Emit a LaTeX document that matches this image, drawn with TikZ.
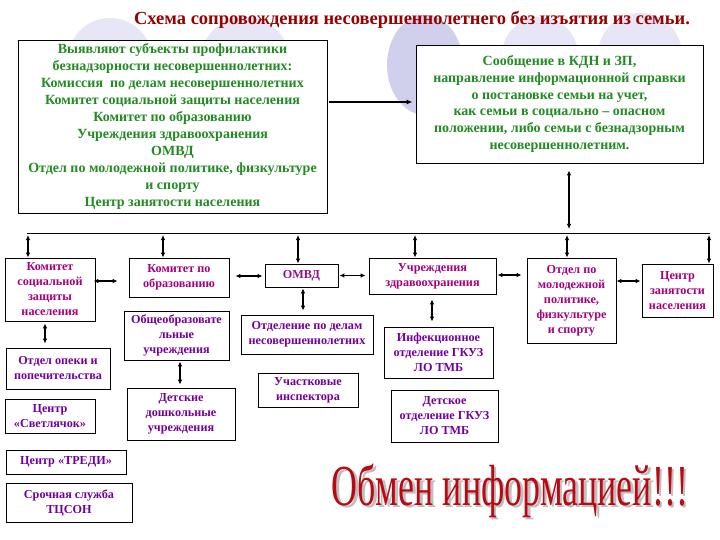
\documentclass[tikz,border=0pt]{standalone}
\usepackage{fontspec}
\setmainfont{Liberation Serif}
\usetikzlibrary{arrows.meta}
\definecolor{tgreen}{RGB}{34,139,34}
\definecolor{tred}{RGB}{150,0,0}
\definecolor{tmag}{RGB}{165,0,125}
\definecolor{tpur}{RGB}{115,0,155}
\definecolor{tmid}{RGB}{140,20,140}
\definecolor{bigred}{RGB}{185,10,20}
\definecolor{lav}{RGB}{230,230,246}
\definecolor{lavd}{RGB}{208,208,236}
\begin{document}
\begin{tikzpicture}[x=1pt,y=-1pt,
 box/.style={draw=black, line width=0.8pt, fill=white, align=center, inner sep=1pt, font=\bfseries\fontsize{12.2}{15}\selectfont},
 topbox/.style={box, text=tgreen, font=\bfseries\fontsize{14}{16.9}\selectfont},
 mbox/.style={box,text=tmag},
 pbox/.style={box,text=tpur},
 dbl/.style={line width=1.1pt,{Latex[length=5pt,width=4.5pt]}-{Latex[length=5pt,width=4.5pt]}},
 sgl/.style={line width=1.6pt,-{Latex[length=6pt,width=5pt]}},
 busline/.style={line width=1pt}
]
\useasboundingbox (0,0) rectangle (720,540);
\fill[white] (0,0) rectangle (720,540);
% background decoration
\fill[lav] (110,60) circle (42);
\fill[lav] (245,62) circle (45);
\fill[lavd] (425,65) ellipse (38 and 50);
\fill[lav] (540,55) circle (38);
\fill[lav] (640,55) circle (42);
% title
\node[font=\bfseries\fontsize{18.5}{22}\selectfont, text=tred] (title) at (412,20) {Схема сопровождения несовершеннолетнего без изъятия из семьи.};
% top boxes
\node[topbox, minimum width=309, minimum height=173] (tl) at (172.5,126.5) {Выявляют субъекты профилактики\\ безнадзорности несовершеннолетних:\\ Комиссия~ по делам несовершеннолетних\\ Комитет социальной защиты населения\\ Комитет по образованию\\ Учреждения здравоохранения\\ ОМВД\\ Отдел по молодежной политике, физкультуре\\ и спорту\\ Центр занятости населения};
\node[topbox, minimum width=287, minimum height=118] (tr) at (559.5,104) {Сообщение в КДН и ЗП,\\ направление информационной справки\\ о постановке семьи на учет,\\ как семьи в социально – опасном\\ положении, либо семьи с безнадзорным\\ несовершеннолетним.};
\draw[sgl] ([xshift=2pt,yshift=24.5pt]tl.east) -- ([xshift=-3pt,yshift=2pt]tr.west);
% bus
\coordinate (bl) at (27,233);
\coordinate (br) at (710,233);
\draw[busline] (bl) -- (br);
\coordinate (bt) at (569,229);
\draw[dbl] ([xshift=9.5pt,yshift=-7pt]tr.south) -- (bt);
% column boxes
\node[mbox, minimum width=90, minimum height=63] (ks) at (50,289.5) {Комитет\\ социальной\\ защиты\\ населения};
\node[pbox, minimum width=104, minimum height=41] (op) at (58,368.5) {Отдел опеки и\\ попечительства};
\node[pbox, minimum width=90, minimum height=34] (sv) at (50,416) {Центр\\ «Светлячок»};
\node[pbox, minimum width=120, minimum height=24] (tre) at (66,462) {Центр «ТРЕДИ»};
\node[pbox, minimum width=126, minimum height=39] (sr) at (69,502.5) {Срочная служба\\ ТЦСОН};
\node[mbox, minimum width=100, minimum height=39] (obr) at (179,277.5) {Комитет по\\ образованию};
\node[pbox, minimum width=105, minimum height=49] (obsh) at (176.5,335.5) {Общеобразовате\\ льные\\ учреждения};
\node[pbox, minimum width=108, minimum height=52] (det) at (181,414) {Детские\\ дошкольные\\ учреждения};
\node[box, text=tmid, minimum width=73, minimum height=23] (omvd) at (301.5,275.5) {ОМВД};
\node[pbox, minimum width=132, minimum height=39] (otd) at (307,334.5) {Отделение по делам\\ несовершеннолетних};
\node[pbox, minimum width=100, minimum height=34] (uch) at (308,390) {Участковые\\ инспектора};
\node[mbox, minimum width=127, minimum height=36] (zdr) at (432.5,276) {Учреждения\\ здравоохранения};
\node[pbox, minimum width=109, minimum height=51] (inf) at (438.5,352.5) {Инфекционное\\ отделение ГКУЗ\\ ЛО ТМБ};
\node[pbox, minimum width=107, minimum height=52] (dsk) at (444.5,416) {Детское\\ отделение ГКУЗ\\ ЛО ТМБ};
\node[mbox, minimum width=89, minimum height=85] (mol) at (571.5,300.5) {Отдел по\\ молодежной\\ политике,\\ физкультуре\\ и спорту};
\node[mbox, minimum width=71, minimum height=53] (zan) at (677.5,290.5) {Центр\\ занятости\\ населения};
% drops from bus
\coordinate (b1) at (28,235);
\coordinate (b2) at (163,235);
\coordinate (b3) at (298,235);
\coordinate (b4) at (415,235);
\coordinate (b5) at (567,235);
\coordinate (b6) at (709,235);
\draw[dbl] (b1) -- (b1 |- ks.north);
\draw[dbl] (b2) -- (b2 |- obr.north);
\draw[dbl] (b3) -- (b3 |- omvd.north);
\draw[dbl] (b4) -- (b4 |- zdr.north);
\draw[dbl] (b5) -- (b5 |- mol.north);
\draw[dbl] (b6) -- (b6 |- zan.north);
% horizontal links
\draw[dbl] ([xshift=-2pt,yshift=8.5pt]ks.east) -- ([xshift=-11pt,yshift=-3.5pt]obr.west);
\draw[dbl] ([xshift=6pt,yshift=1.5pt]obr.east) -- ([xshift=-2pt,yshift=-0.5pt]omvd.west);
\draw[dbl] ([xshift=1pt]omvd.east) -- ([xshift=-3pt,yshift=0.5pt]zdr.west);
\draw[dbl] ([xshift=1pt,yshift=1pt]zdr.east) -- ([xshift=-5pt,yshift=25.5pt]mol.west);
\draw[dbl] ([yshift=19.5pt]mol.east) -- ([xshift=-1pt,yshift=9.5pt]zan.west);
% vertical links
\draw[dbl] ([xshift=-5pt,yshift=-2pt]ks.south) -- ([xshift=-13pt,yshift=4pt]op.north);
\draw[dbl] ([xshift=3.5pt,yshift=-1pt]obsh.south) -- ([xshift=-1pt,yshift=3pt]det.north);
\draw[dbl] ([xshift=1.5pt,yshift=-1pt]omvd.south) -- ([xshift=-4pt,yshift=4pt]otd.north);
\draw[dbl] ([xshift=-0.5pt,yshift=-5pt]zdr.south) -- ([xshift=-6.5pt,yshift=5pt]inf.north);
% big slogan
\node[font=\fontsize{58}{58}\selectfont, text=gray!50, xscale=0.62, anchor=base] (bigsh) at (512.5,507.5) {Обмен информацией!!!};
\node[font=\fontsize{58}{58}\selectfont, text=bigred, xscale=0.62, anchor=base] (big) at (510,505) {Обмен информацией!!!};
\end{tikzpicture}
\end{document}
